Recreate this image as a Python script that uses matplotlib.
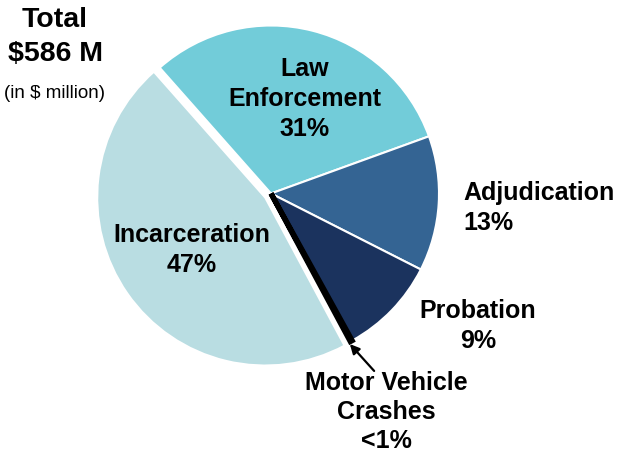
import matplotlib
matplotlib.use("Agg")
import matplotlib.pyplot as plt

plt.rcParams['font.family'] = ['Liberation Sans', 'DejaVu Sans']

categories = ["Law Enforcement", "Adjudication", "Probation", "Motor Vehicle Crashes", "Incarceration"]
shares = [31, 13, 9.5, 0.2, 46.3]
pct_labels = ["31%", "13%", "9%", "<1%", "47%"]
colors = ["#72CCD9", "#346493", "#1B335E", "#000000", "#B9DDE2"]

W, H = 621, 453
R = 168
explode = [0, 0, 0, 0, 0.042 * R]

fig = plt.figure(figsize=(W / 100, H / 100), dpi=100)
ax = fig.add_axes([0, 0, 1, 1])

def Y(y):
    return H - y

wedges, _ = ax.pie(shares, colors=colors, explode=explode, startangle=131.5, counterclock=False,
                   center=(271, Y(193.5)), radius=R,
                   wedgeprops=dict(edgecolor='white', linewidth=1.5), frame=True)
mvc = wedges[3]
mvc.set_edgecolor('black')
mvc.set_linewidth(3.8)
mvc.set_joinstyle('miter')
mvc.set_zorder(5)

ax.set_xlim(0, W)
ax.set_ylim(0, H)
ax.set_aspect('equal')
ax.axis('off')

bold = dict(fontweight='bold', fontsize=18, color='black')

ax.text(305, Y(99), "Law\nEnforcement\n" + pct_labels[0], ha='center', va='center',
        linespacing=1.33, **bold)
ax.text(192, Y(250), "Incarceration\n" + pct_labels[4], ha='center', va='center',
        linespacing=1.33, **bold)
ax.text(463, Y(208), "Adjudication\n" + pct_labels[1], ha='left', va='center',
        linespacing=1.27, **bold)
ax.text(478, Y(326), "Probation\n" + pct_labels[2], ha='center', va='center',
        linespacing=1.27, **bold)
ax.text(386, Y(412), "Motor Vehicle\nCrashes\n" + pct_labels[3], ha='center', va='center',
        linespacing=1.24, **bold)

ax.annotate("", xy=(348, Y(342)), xytext=(376, Y(373)),
            arrowprops=dict(arrowstyle='-|>', color='black', lw=1.6, mutation_scale=14))

ax.text(55, Y(37), "Total\n$586 M", ha='center', va='center', fontweight='bold',
        fontsize=20.5, linespacing=1.4)
ax.text(55, Y(94), "(in $ million)", ha='center', va='center', fontsize=13.5)

fig.savefig("out.png", dpi=100)
